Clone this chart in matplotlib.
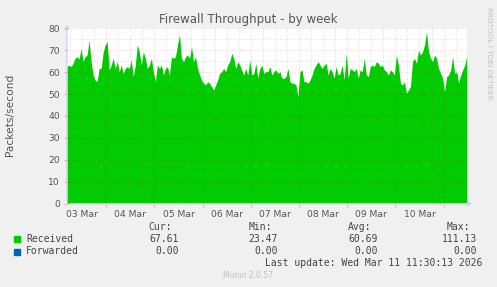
import numpy as np
import pandas as pd
import matplotlib
matplotlib.use('Agg')
import matplotlib.pyplot as plt
import matplotlib.dates as mdates

# packets/second, roughly one reading per hour
received = [
    62.5, 63.2, 62.5, 64.0, 66.3, 67.0, 66.0, 70.8, 64.8, 67.0,
    67.8, 74.6, 64.8, 58.7, 56.4, 55.6, 61.7, 61.7, 69.0, 72.4,
    73.9, 61.0, 63.2, 66.3, 61.7, 64.8, 60.2, 63.2, 59.4, 61.7,
    62.5, 61.7, 65.5, 57.9, 63.2, 72.4, 69.3, 63.2, 69.3, 66.3,
    61.7, 63.2, 66.3, 60.2, 55.6, 63.2, 61.7, 63.2, 58.7, 61.7,
    62.5, 58.7, 67.0, 66.3, 67.0, 72.4, 77.0, 66.3, 64.8, 67.0,
    67.8, 66.3, 71.6, 64.8, 67.0, 61.7, 58.7, 56.4, 54.9, 54.1,
    55.6, 54.9, 53.4, 51.8, 54.1, 56.4, 59.4, 60.2, 61.7, 60.2,
    63.2, 64.8, 68.5, 66.3, 61.7, 64.8, 63.2, 61.0, 58.7, 61.7,
    58.7, 65.5, 58.7, 59.4, 64.0, 57.2, 61.7, 63.2, 59.4, 60.2,
    60.2, 62.5, 58.7, 60.2, 61.0, 59.4, 60.2, 57.2, 57.2, 57.9,
    61.7, 55.6, 54.9, 54.9, 54.1, 48.8, 60.2, 61.0, 55.6, 55.6,
    54.9, 56.4, 58.7, 61.7, 63.2, 64.8, 63.2, 61.7, 63.2, 64.0,
    58.7, 61.7, 60.2, 57.2, 62.5, 58.7, 59.4, 63.2, 56.4, 68.5,
    57.2, 61.7, 61.0, 60.2, 61.7, 57.2, 61.0, 60.2, 66.3, 58.7,
    57.9, 62.5, 63.2, 62.5, 64.8, 64.0, 62.5, 63.2, 61.0, 60.2,
    58.7, 61.0, 60.2, 58.7, 67.8, 63.2, 54.9, 54.1, 55.6, 50.3,
    51.8, 53.4, 64.8, 66.3, 64.0, 70.0, 67.8, 69.3, 72.4, 78.5,
    69.3, 66.3, 64.8, 67.8, 66.3, 61.7, 59.4, 57.2, 51.0, 57.9,
    58.7, 61.0, 67.0, 59.4, 60.2, 54.9, 58.7, 61.0, 63.2, 67.0,
]
forwarded = [0.0] * len(received)

series_names = ['Received', 'Forwarded']
series_colors = ['#00cc00', '#0066b3']
stat_names = ['Cur:', 'Min:', 'Avg:', 'Max:']
stat_received = ['67.61', '23.47', '60.69', '111.13']
stat_forwarded = ['0.00', '0.00', '0.00', '0.00']

t_start = pd.Timestamp('2026-03-03 04:30')
t_end = pd.Timestamp('2026-03-11 11:30')
times = pd.date_range(t_start, t_end, periods=len(received))

W, H = 497, 287
fig = plt.figure(figsize=(W / 100, H / 100), dpi=100, facecolor='#f0f0f0')


def px(x, y):
    return x / W, 1 - y / H


x0, x1, ytop, ybot = 67, 466.7, 28.3, 203.5
ax = fig.add_axes([x0 / W, 1 - ybot / H, (x1 - x0) / W, (ybot - ytop) / H])
ax.set_facecolor('white')

ax.fill_between(times, received, 0, color=series_colors[0], lw=0, zorder=1)
ax.fill_between(times, forwarded, 0, color=series_colors[1], lw=0, zorder=1)

ax.set_xlim(t_start, t_end)
ax.set_ylim(0, 80)

# grid: red at major, grey at minor
for v in range(5, 80, 10):
    ax.axhline(v, color='#707070', alpha=0.3, lw=0.6, ls=(0, (1, 2)), zorder=2)
for v in range(10, 81, 10):
    ax.axhline(v, color='#e00000', alpha=0.25, lw=0.6, ls=(0, (1, 2)), zorder=2)
for d in pd.date_range('2026-03-03 06:00', t_end, freq='6h'):
    if d.hour != 0:
        ax.axvline(d, color='#707070', alpha=0.3, lw=0.6, ls=(0, (1, 2)), zorder=2)
midnights = pd.date_range('2026-03-04', t_end, freq='D')
for d in midnights:
    ax.axvline(d, color='#e00000', alpha=0.25, lw=0.6, ls=(0, (1, 2)), zorder=2)

for s in ax.spines.values():
    s.set_visible(False)

ax.xaxis.set_major_locator(mdates.HourLocator(byhour=12))
ax.xaxis.set_major_formatter(mdates.DateFormatter('%d %b'))
ax.set_xticks(midnights, minor=True)
ax.tick_params(axis='x', which='major', length=0, pad=5, labelsize=6.6, colors='#555555')
ax.tick_params(axis='x', which='minor', length=2, color='#ff9999', width=0.6)
ax.set_yticks(range(0, 81, 10))
ax.tick_params(axis='y', length=2, color='#ff9999', width=0.6, pad=3,
               labelsize=6.6, labelcolor='#555555')

# axis arrows
arrow = dict(arrowstyle='-|>', color='#c8c8ff', lw=0.8, mutation_scale=6)
ax.annotate('', xy=(0, 1.035), xytext=(0, 0), xycoords='axes fraction',
            arrowprops=arrow, annotation_clip=False)
ax.annotate('', xy=(1.02, 0), xytext=(0, 0), xycoords='axes fraction',
            arrowprops=arrow, annotation_clip=False)

fig.text(*px(248.5, 19), 'Firewall Throughput - by week', ha='center', va='center',
         fontsize=8.5, color='#555555')
fig.text(*px(10, 115), 'Packets/second', rotation=90, ha='center', va='center',
         fontsize=7.7, color='#555555')
fig.text(*px(489, 53), 'RRDTOOL / TOBI OETIKER', rotation=270, ha='center', va='center',
         fontsize=5.2, color='#c0c0c0')

mono = dict(family='DejaVu Sans Mono', fontsize=7, color='#444444', va='center')
col_right = [172, 272, 371, 470]
val_right = [179, 278, 378, 477]
for x, name in zip(col_right, stat_names):
    fig.text(*px(x, 227), name, ha='right', **mono)
rows = [stat_received, stat_forwarded]
for i, (name, color, stats) in enumerate(zip(series_names, series_colors, rows)):
    y = 239 + i * 12.5
    fig.patches.append(plt.Rectangle(px(14, y + 3), 6 / W, 6 / H, color=color,
                                     transform=fig.transFigure, figure=fig))
    fig.text(*px(26, y), name, ha='left', **mono)
    for x, v in zip(val_right, stats):
        fig.text(*px(x, y), v, ha='right', **mono)
fig.text(*px(482, 263), 'Last update: Wed Mar 11 11:30:13 2026', ha='right', **mono)
fig.text(*px(248, 276), 'Munin 2.0.57', ha='center', va='center', fontsize=5.5,
         color='#c0c0c0')

fig.savefig('out.png', dpi=100, facecolor=fig.get_facecolor())
